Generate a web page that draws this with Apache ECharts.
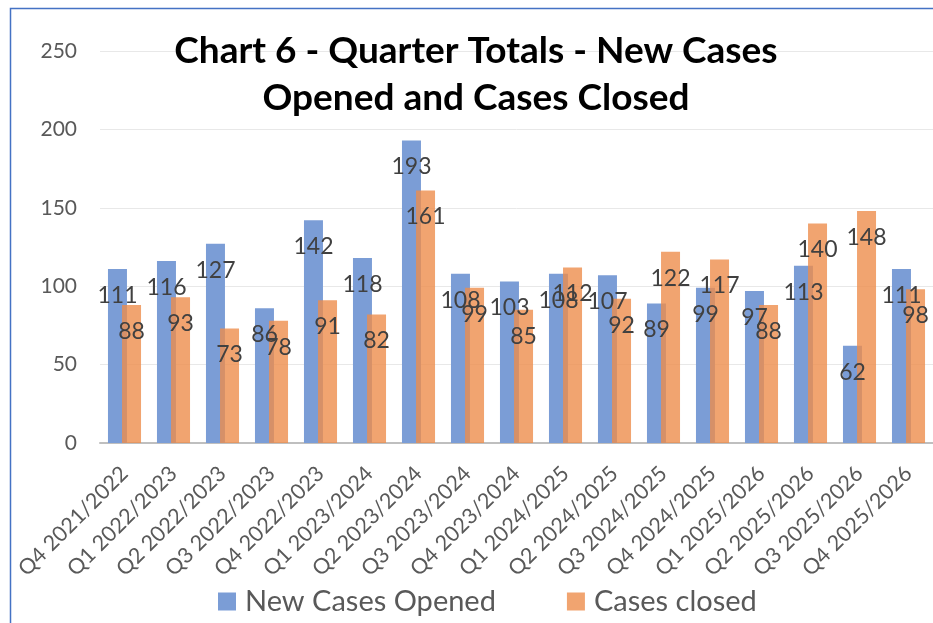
<!DOCTYPE html>
<html>
<head>
<meta charset="utf-8">
<script src="https://cdn.jsdelivr.net/npm/echarts@6/dist/echarts.min.js"></script>
<style>
html,body{margin:0;padding:0;background:#fff;}
#chart{width:933px;height:623px;}
</style>
</head>
<body>
<div id="chart"></div>
<script>
const categories = ['Q4 2021/2022','Q1 2022/2023','Q2 2022/2023','Q3 2022/2023','Q4 2022/2023','Q1 2023/2024','Q2 2023/2024','Q3 2023/2024','Q4 2023/2024','Q1 2024/2025','Q2 2024/2025','Q3 2024/2025','Q4 2024/2025','Q1 2025/2026','Q2 2025/2026','Q3 2025/2026','Q4 2025/2026'];
const newCasesOpened = [111,116,127,86,142,118,193,108,103,108,107,89,99,97,113,62,111];
const casesClosed = [88,93,73,78,91,82,161,99,85,112,92,122,117,88,140,148,98];
const yTicks = [0,50,100,150,200,250];

const chart = echarts.init(document.getElementById('chart'), null, {renderer:'canvas'});
const labelStyle = {
  show: true,
  position: 'insideTop',
  distance: 15,
  fontFamily: 'Lato',
  fontSize: 23,
  color: '#404040'
};
chart.setOption({
  animation: false,
  backgroundColor: '#fff',
  textStyle: {fontFamily: 'Lato'},
  title: {
    text: 'Chart 6 - Quarter Totals - New Cases\nOpened and Cases Closed',
    left: 471,
    top: 23,
    textAlign: 'center',
    textStyle: {fontFamily: 'Lato', fontWeight: 'bold', fontSize: 37, color: '#000', lineHeight: 47}
  },
  legend: {
    data: ['New Cases Opened', 'Cases closed'],
    bottom: 2,
    left: 213,
    itemWidth: 18,
    itemHeight: 18,
    itemGap: 71,
    icon: 'rect',
    textStyle: {fontFamily: 'Lato', fontSize: 29, color: '#595959', padding: [0, 0, 0, 4]}
  },
  grid: {left: 100, right: 0, top: 51, bottom: 180, containLabel: false},
  xAxis: {
    type: 'category',
    data: categories,
    axisLine: {lineStyle: {color: '#bfbfbf', width: 2}},
    axisTick: {show: false},
    axisLabel: {rotate: 45, fontFamily: 'Lato', fontSize: 21.5, color: '#595959', margin: 27, interval: 0}
  },
  yAxis: {
    type: 'value',
    min: yTicks[0],
    max: yTicks[yTicks.length-1],
    interval: 50,
    axisLine: {show: false},
    axisTick: {show: false},
    axisLabel: {fontFamily: 'Lato', fontSize: 21, color: '#595959', margin: 23},
    splitLine: {lineStyle: {color: '#e8e8e8', width: 1}}
  },
  series: [
    {
      name: 'New Cases Opened',
      type: 'bar',
      data: newCasesOpened,
      barWidth: 19,
      barGap: '-26%',
      itemStyle: {color: '#7b9dd6'},
      label: labelStyle
    },
    {
      name: 'Cases closed',
      type: 'bar',
      data: casesClosed,
      barWidth: 19,
      barGap: '-26%',
      itemStyle: {color: 'rgba(237,141,76,0.8)'},
      label: labelStyle
    }
  ],
  graphic: [{
    type: 'rect',
    left: 8, top: 6,
    shape: {x: 0, y: 0, width: 1000, height: 1000},
    style: {fill: 'none', stroke: '#4472c4', lineWidth: 1.5},
    silent: true,
    z: 100
  }]
});
</script>
</body>
</html>
